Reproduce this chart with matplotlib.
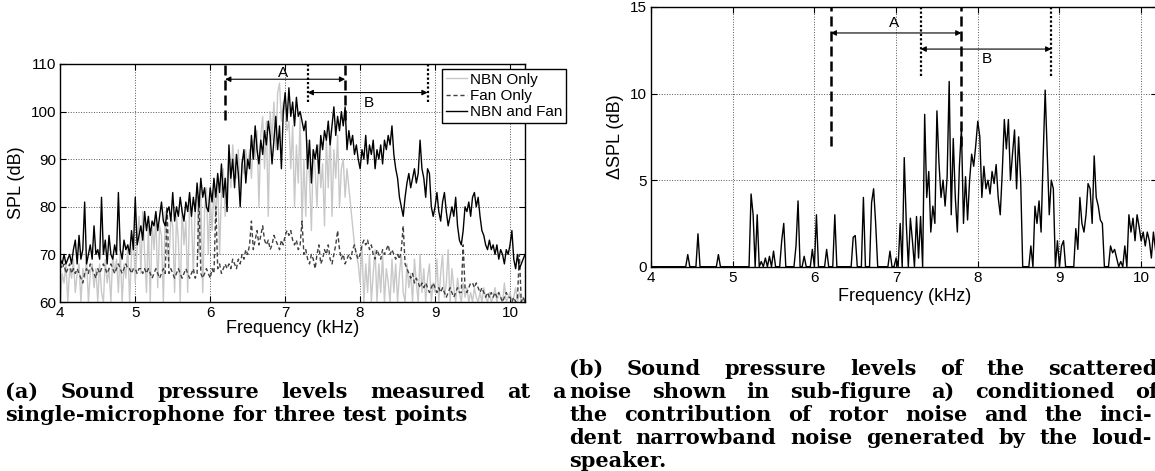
import matplotlib
matplotlib.use('Agg')
import matplotlib.pyplot as plt
import numpy as np

# spectra sampled every 25 Hz starting at 4 kHz (one row = 0.25 kHz)
f_start = 4.0
f_step = 0.025

spl_nbn = [
    60, 66, 64, 68, 60, 67, 65, 69, 62, 66,
    68, 60, 67, 65, 69, 60, 66, 68, 63, 67,
    60, 68, 62, 60, 69, 64, 67, 60, 70, 66,
    69, 62, 71, 60, 68, 65, 72, 60, 70, 74,
    64, 72, 78, 66, 79, 70, 62, 76, 60, 77,
    71, 78, 63, 76, 74, 60, 79, 72, 68, 78,
    76, 62, 78, 73, 60, 80, 72, 77, 62, 81,
    78, 66, 80, 84, 70, 82, 62, 79, 84, 70,
    82, 75, 84, 78, 86, 70, 83, 88, 78, 85,
    91, 84, 93, 88, 86, 92, 83, 90, 87, 92,
    88, 92, 86, 94, 90, 96, 80, 95, 99, 88,
    98, 78, 100, 94, 102, 92, 104, 106, 98, 102,
    100, 96, 98, 88, 97, 80, 93, 85, 99, 76,
    90, 78, 94, 86, 75, 92, 88, 80, 93, 84,
    89, 76, 94, 84, 96, 78, 92, 86, 95, 80,
    88, 90, 82, 88, 84, 80, 76, 72, 70, 68,
    64, 72, 60, 68, 62, 70, 60, 66, 71, 60,
    68, 62, 70, 60, 67, 64, 60, 69, 62, 68,
    60, 66, 70, 62, 60, 68, 63, 66, 60, 69,
    64, 60, 70, 62, 67, 60, 65, 68, 60, 64,
    62, 69, 60, 66, 70, 61, 64, 71, 60, 67,
    63, 60, 65, 62, 60, 64, 61, 63, 60, 62,
    60, 63, 61, 60, 62, 60, 63, 61, 60, 62,
    60, 61, 63, 60, 62, 61, 60, 64, 60, 61,
    62, 60, 61, 63, 60, 62, 60, 61, 60, 62,
]

spl_fan = [
    68, 67, 68, 66, 67, 68, 66, 67, 66, 67,
    66, 65, 64, 66, 67, 66, 68, 67, 66, 65,
    67, 66, 67, 68, 67, 66, 67, 68, 67, 66,
    67, 68, 67, 66, 67, 68, 67, 67, 66, 67,
    67, 66, 67, 67, 66, 67, 66, 67, 66, 65,
    66, 67, 66, 65, 66, 67, 66, 80, 66, 67,
    66, 65, 66, 67, 66, 65, 66, 67, 66, 65,
    66, 67, 65, 66, 82, 66, 65, 66, 67, 66,
    65, 67, 66, 80, 67, 68, 66, 67, 68, 67,
    68, 67, 69, 68, 67, 69, 68, 70, 69, 71,
    70, 72, 77, 71, 73, 75, 72, 74, 76, 73,
    72, 73, 71, 72, 74, 73, 72, 71, 73, 72,
    74, 75, 74, 75, 73, 72, 73, 71, 72, 77,
    70, 71, 69, 68, 70, 69, 67, 70, 72, 68,
    69, 71, 70, 72, 69, 68, 70, 72, 75, 71,
    69, 70, 68, 69, 70, 69, 71, 72, 70, 69,
    70, 72, 73, 72, 73, 71, 72, 70, 69, 71,
    70, 69, 71, 70, 71, 72, 70, 71, 70, 69,
    70, 69, 71, 76, 68, 67, 66, 65, 66, 64,
    65, 64, 63, 64, 63, 64, 63, 62, 63, 64,
    63, 62, 63, 62, 63, 62, 61, 62, 63, 62,
    61, 62, 63, 62, 62, 72, 63, 62, 63, 64,
    64, 63, 64, 63, 62, 63, 62, 61, 62, 61,
    62, 61, 62, 61, 62, 61, 60, 61, 62, 61,
    61, 60, 61, 60, 61, 70, 60, 61, 60, 61,
]

spl_both = [
    69, 68, 70, 68, 69, 70, 68, 71, 73, 68,
    74, 69, 71, 81, 68, 70, 72, 69, 76, 70,
    71, 69, 82, 70, 73, 68, 74, 70, 69, 72,
    70, 83, 71, 69, 73, 71, 72, 70, 75, 71,
    82, 72, 74, 76, 73, 79, 75, 78, 74, 77,
    76, 79, 75, 78, 81, 77, 76, 79, 80, 77,
    83, 77, 80, 78, 82, 79, 77, 81, 79, 83,
    78, 82, 79, 85, 80, 86, 82, 84, 80, 79,
    84, 81, 86, 82, 87, 83, 89, 82, 86, 79,
    93, 86, 90, 84, 91, 87, 80, 89, 92, 85,
    90, 88, 95, 90, 97, 92, 89, 94, 91, 96,
    93, 98, 95, 89, 94, 99, 92, 97, 88, 100,
    104, 98, 105, 99, 102, 97, 103, 99, 100, 98,
    96, 98, 88, 94, 85, 92, 90, 93, 87, 95,
    92, 96, 94, 98, 93, 97, 101, 95, 99, 96,
    100, 97, 101, 92, 96, 93, 95, 91, 93, 90,
    88, 92, 90, 95, 89, 93, 91, 94, 88, 92,
    90, 93, 89, 94, 92, 95, 93, 97, 91, 88,
    86, 82, 80, 78, 82, 85, 87, 84, 86, 88,
    85, 87, 94, 88, 86, 82, 88, 87, 80, 78,
    80, 83, 79, 77, 81, 83, 79, 76, 78, 80,
    78, 82, 76, 73, 72, 75, 80, 79, 81, 78,
    82, 83, 80, 82, 78, 75, 74, 72, 71, 73,
    71, 72, 70, 72, 69, 71, 70, 68, 71, 70,
    72, 75, 69, 67, 70, 67, 68, 69, 70, 69,
]

delta_spl = [
    0, 0, 0, 0, 0, 0, 0, 0, 0, 0,
    0, 0, 0, 0, 0, 0, 0, 0, 0.7, 0,
    0, 0, 0, 1.9, 0, 0, 0, 0, 0, 0,
    0, 0, 0, 0.7, 0, 0, 0, 0, 0, 0,
    0, 0, 0, 0, 0, 0, 0, 0, 0, 4.2,
    3.0, 0, 3.0, 0, 0.3, 0, 0.5, 0, 0.6, 0,
    0.9, 0, 0, 0, 1.5, 2.5, 0, 0, 0, 0,
    0, 1.2, 3.8, 0, 0, 0.6, 0, 0, 0, 1.0,
    0, 3.0, 0, 0, 0, 0, 1.0, 0, 0, 0,
    3.0, 0, 0, 0, 0, 0, 0, 0, 0, 1.7,
    1.8, 0, 0, 0, 4.0, 0, 0, 0, 3.7, 4.5,
    2.5, 0, 0, 0, 0, 0, 0, 0.9, 0, 0,
    0.5, 0, 2.5, 0, 6.3, 2.5, 0, 2.8, 1.5, 0,
    2.9, 0.5, 2.9, 0, 8.8, 4.0, 5.5, 2.0, 3.5, 2.5,
    9.0, 6.0, 4.0, 5.0, 3.5, 5.2, 10.7, 3.0, 7.4, 4.0,
    2.0, 5.8, 8.0, 2.5, 5.2, 2.7, 5.0, 6.5, 5.8, 7.0,
    8.4, 7.5, 4.0, 5.8, 4.5, 5.0, 4.2, 5.5, 4.8, 5.9,
    4.0, 3.0, 5.5, 8.5, 6.8, 8.5, 5.0, 6.5, 7.9, 4.5,
    7.5, 5.0, 0, 0, 0, 0, 1.2, 0, 3.5, 2.5,
    3.8, 2.0, 6.3, 10.2, 6.5, 3.0, 5.0, 4.5, 0, 1.5,
    0, 1.2, 1.5, 0, 0, 0, 0, 0, 2.2, 1.0,
    4.0, 2.5, 2.0, 3.0, 4.8, 4.5, 2.5, 6.4, 4.0, 3.5,
    2.7, 2.5, 0, 0, 0, 1.2, 0.8, 1.0, 0.5, 0,
    0.3, 0, 1.2, 0, 3.0, 2.0, 2.8, 1.5, 3.0, 2.3,
    1.5, 2.0, 1.2, 2.0, 1.5, 0.5, 2.0, 1.0, 0, 0,
]

band_a = (6.2, 7.8)
band_b = (7.3, 8.9)

caption_a = ["(a) Sound pressure levels measured at a",
             "single-microphone for three test points"]
caption_b = ["(b) Sound pressure levels of the scattered",
             "noise shown in sub-figure a) conditioned of",
             "the contribution of rotor noise and the inci-",
             "dent narrowband noise generated by the loud-",
             "speaker."]

freq = f_start + f_step * np.arange(len(spl_both))

W, H = 1155, 471
plt.rcParams['font.family'] = ['Liberation Sans', 'DejaVu Sans']
fig = plt.figure(figsize=(W / 100, H / 100), dpi=100)


def px_axes(x0, y0, x1, y1):
    return fig.add_axes([x0 / W, 1 - y1 / H, (x1 - x0) / W, (y1 - y0) / H])


def style(ax, ylo, yhi, yticks):
    ax.set_xlim(4, 10.2)
    ax.set_ylim(ylo, yhi)
    ax.set_xticks([4, 5, 6, 7, 8, 9, 10])
    ax.set_yticks(yticks)
    ax.tick_params(direction='in', top=True, right=True, length=4,
                   labelsize=11, pad=3)
    ax.grid(True, linestyle=':', color='#555555', linewidth=0.7)
    for s in ax.spines.values():
        s.set_linewidth(1.0)


def bands(ax, top, a_low, b_low, ya, yb, ta, tb):
    for x in band_a:
        ax.plot([x, x], [a_low, top], color='black', lw=1.8,
                linestyle=(0, (4, 2)), clip_on=False)
    for x in band_b:
        ax.plot([x, x], [b_low, top], color='black', lw=1.6,
                linestyle=(0, (1, 1)), clip_on=False)
    arr = dict(arrowstyle='<|-|>', color='black', lw=0.8,
               mutation_scale=8, shrinkA=0, shrinkB=0)
    ax.annotate('', xy=(band_a[1], ya), xytext=(band_a[0], ya), arrowprops=arr)
    ax.annotate('', xy=(band_b[1], yb), xytext=(band_b[0], yb), arrowprops=arr)
    ax.text(6.97, ta, 'A', ha='center', va='center', fontsize=11)
    ax.text(8.11, tb, 'B', ha='center', va='center', fontsize=11)


# left: SPL
ax1 = px_axes(60.3, 64, 525, 302)
style(ax1, 60, 110, [60, 70, 80, 90, 100, 110])
ax1.plot(freq, spl_nbn, color='#c8c8c8', lw=1.0, label='NBN Only')
ax1.plot(freq, spl_fan, color='#404040', lw=1.0, linestyle=(0, (3, 2)),
         label='Fan Only')
ax1.plot(freq, spl_both, color='black', lw=1.0, label='NBN and Fan')
bands(ax1, 110, 98.2, 102.1, 106.8, 104.0, 108.2, 101.9)
ax1.set_xlabel('Frequency (kHz)', fontsize=13, labelpad=0)
ax1.set_ylabel('SPL (dB)', fontsize=13, labelpad=4)
leg = ax1.legend(loc='upper left', bbox_to_anchor=(0.821, 0.979),
                 fontsize=11, fancybox=False, framealpha=1, edgecolor='black',
                 handlelength=1.4, handletextpad=0.2, borderpad=0.25,
                 labelspacing=0.15, borderaxespad=0)
leg.get_frame().set_linewidth(1.0)

# right: delta SPL
ax2 = px_axes(651, 7, 1157.5, 266.7)
style(ax2, 0, 15, [0, 5, 10, 15])
ax2.plot(freq, delta_spl, color='black', lw=1.0)
bands(ax2, 15, 7.0, 11.0, 13.5, 12.57, 14.1, 12.0)
ax2.set_xlabel('Frequency (kHz)', fontsize=13, labelpad=2)
ax2.set_ylabel('\u0394SPL (dB)', fontsize=13, labelpad=4)

# captions, justified like the paper
renderer = fig.canvas.get_renderer()
cap_kw = dict(family='DejaVu Serif', weight='bold', fontsize=15,
              va='center', ha='left')


def text_width(s):
    t = fig.text(0, 0, s, **cap_kw)
    w = t.get_window_extent(renderer).width
    t.remove()
    return w


space_w = text_width('a a') - text_width('aa')


def put_line(line, x0, x1, y, justify):
    words = line.split()
    widths = [text_width(w) for w in words]
    if justify and len(words) > 1:
        gap = (x1 - x0 - sum(widths)) / (len(words) - 1)
    else:
        gap = space_w
    x = x0
    for word, w in zip(words, widths):
        fig.text(x / W, 1 - y / H, word, **cap_kw)
        x += w + gap


for i, line in enumerate(caption_a):
    put_line(line, 5, 566, 392 + 23 * i, i < len(caption_a) - 1)
for i, line in enumerate(caption_b):
    put_line(line, 569, 1158 if i < 2 else 1152, 369 + 23 * i,
             i < len(caption_b) - 1)

fig.savefig('out.png', dpi=100)
